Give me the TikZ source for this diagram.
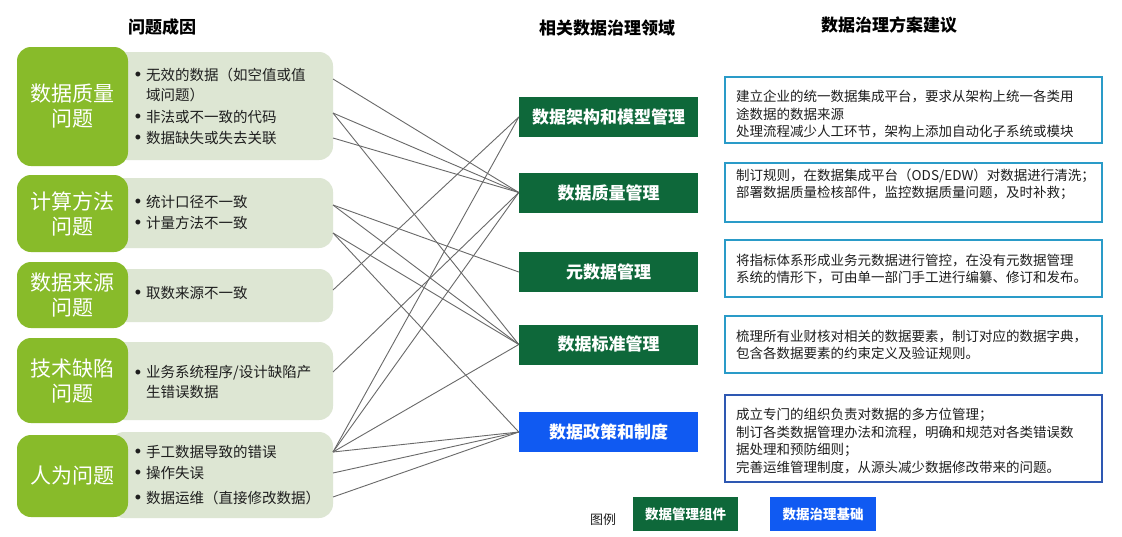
\documentclass[tikz,border=0pt]{standalone}
\usepackage{fontspec}
\setmainfont{Noto Sans CJK SC}
\newfontfamily\bulletfont{Liberation Sans}
\definecolor{leafgreen}{RGB}{136,187,42}
\definecolor{lightsage}{RGB}{221,230,211}
\definecolor{darkgreen}{RGB}{14,104,58}
\definecolor{brightblue}{RGB}{16,90,242}
\definecolor{tealblue}{RGB}{42,155,200}
\definecolor{navyblue}{RGB}{46,88,178}
\definecolor{linegray}{RGB}{105,105,105}
\definecolor{textgray}{RGB}{30,30,30}
\newcommand{\fs}[2]{\fontsize{#1pt}{#2pt}\selectfont}
\begin{document}
\begin{tikzpicture}[x=1pt,y=-1pt,
  gbox/.style={fill=leafgreen, rounded corners=14pt, minimum width=111pt, text=white, align=center, font=\fs{21}{25}, inner sep=0},
  lbox/.style={fill=lightsage, rounded corners=14pt, minimum width=223pt, inner sep=0},
  item/.style={anchor=west, inner sep=0, font=\fs{14.5}{17}, text=textgray},
  bul/.style={anchor=base, inner sep=0, font=\bulletfont\fs{18}{18}, text=textgray},
  mbox/.style={fill=darkgreen, minimum width=179pt, minimum height=40pt, text=white, font=\bfseries\fs{17}{20}, inner sep=0},
  pbox/.style={mbox, fill=brightblue},
  rbox/.style={draw=tealblue, line width=2pt, minimum width=377pt, inner sep=0},
  rtext/.style={anchor=west, align=left, inner sep=0, font=\fs{13.5}{17.5}, text=textgray},
  link/.style={draw=linegray, line width=0.9pt},
  title/.style={font=\bfseries\fs{17}{20}, text=black, inner sep=0},
  legbox/.style={minimum width=105pt, minimum height=34pt, text=white, font=\bfseries\fs{13.5}{16}, inner sep=0}
]
\useasboundingbox[fill=white] (0,0) rectangle (1122,536);

% titles
\node[title] (t1) at (162,27) {问题成因};
\node[title] (t2) at (607,28) {相关数据治理领域};
\node[title] (t3) at (889,25) {数据治理方案建议};

% light boxes
\node[lbox, minimum height=108pt] (l1) at (221.5,106) {};
\node[lbox, minimum height=70pt] (l2) at (221.5,213) {};
\node[lbox, minimum height=53pt] (l3) at (221.5,295.5) {};
\node[lbox, minimum height=78pt] (l4) at (221.5,381) {};
\node[lbox, minimum height=86pt] (l5) at (221.5,475) {};

% green boxes
\node[gbox, minimum height=119pt] (g1) at (72.5,106.5) {数据质量\\问题};
\node[gbox, minimum height=77pt] (g2) at (72.5,213.5) {计算方法\\问题};
\node[gbox, minimum height=66pt] (g3) at (72.5,295) {数据来源\\问题};
\node[gbox, minimum height=85pt] (g4) at (72.5,380.5) {技术缺陷\\问题};
\node[gbox, minimum height=82pt] (g5) at (72.5,476) {人为问题};

% bullet items
\node[bul] (u11) at (138,80) {•};
\node[item] (i11) at (146,75) {无效的数据（如空值或值};
\node[item] (i11b) at (146,95) {域问题）};
\node[bul] (u12) at (138,122) {•};
\node[item] (i12) at (146,117) {非法或不一致的代码};
\node[bul] (u13) at (138,143) {•};
\node[item] (i13) at (146,138) {数据缺失或失去关联};
\node[bul] (u21) at (138,207) {•};
\node[item] (i21) at (146,202) {统计口径不一致};
\node[bul] (u22) at (138,228) {•};
\node[item] (i22) at (146,223) {计量方法不一致};
\node[bul] (u31) at (138,298) {•};
\node[item] (i31) at (146,293) {取数来源不一致};
\node[bul] (u41) at (138,378) {•};
\node[item] (i41) at (146,373) {业务系统程序/设计缺陷产};
\node[item] (i41b) at (146,392) {生错误数据};
\node[bul] (u51) at (138,457) {•};
\node[item] (i51) at (146,452) {手工数据导致的错误};
\node[bul] (u52) at (138,478) {•};
\node[item] (i52) at (146,473) {操作失误};
\node[bul] (u53) at (138,503) {•};
\node[item] (i53) at (146,498) {数据运维（直接修改数据）};

% middle boxes
\node[mbox] (m1) at (608.5,117) {数据架构和模型管理};
\node[mbox] (m2) at (608.5,192.5) {数据质量管理};
\node[mbox] (m3) at (608.5,272) {元数据管理};
\node[mbox] (m4) at (608.5,344.5) {数据标准管理};
\node[pbox] (m5) at (608.5,432) {数据政策和制度};

% connector start points
\coordinate (p11) at (333,79);
\coordinate (p12) at (333,113);
\coordinate (p13) at (333,138);
\coordinate (p21) at (333,205);
\coordinate (p22) at (333,233);
\coordinate (p31) at (333,290);
\coordinate (p41) at (333,372);
\coordinate (p51) at (333,452);
\coordinate (p52) at (333,473);
\coordinate (p53) at (333,497);

% connectors
\draw[link] (p11) -- (m2.west);
\draw[link] (p12) -- (m2.west);
\draw[link] (p12) -- (m4.west);
\draw[link] (p13) -- (m2.west);
\draw[link] (p21) -- (m3.west);
\draw[link] (p21) -- (m4.west);
\draw[link] (p22) -- (m4.west);
\draw[link] (p22) -- (m5.west);
\draw[link] (p31) -- (m1.west);
\draw[link] (p41) -- (m2.west);
\draw[link] (p51) -- (m1.west);
\draw[link] (p51) -- (m2.west);
\draw[link] (p51) -- (m4.west);
\draw[link] (p51) -- (m5.west);
\draw[link] (p52) -- (m5.west);
\draw[link] (p53) -- (m5.west);

% right boxes
\node[rbox, minimum height=66pt] (r1) at (913.5,110) {};
\node[rbox, minimum height=59pt] (r2) at (913.5,192.5) {};
\node[rbox, minimum height=57pt] (r3) at (913.5,268.5) {};
\node[rbox, minimum height=57pt] (r4) at (913.5,344.5) {};
\node[rbox, draw=navyblue, minimum height=87pt] (r5) at (913.5,438.5) {};

\node[rtext] (x1) at (736,114) {建立企业的统一数据集成平台，要求从架构上统一各类用\\途数据的数据来源\\处理流程减少人工环节，架构上添加自动化子系统或模块};
\node[rtext] (x2) at (736,184.5) {制订规则，在数据集成平台（ODS/EDW）对数据进行清洗；\\部署数据质量检核部件，监控数据质量问题，及时补救；};
\node[rtext] (x3) at (736,269) {将指标体系形成业务元数据进行管控，在没有元数据管理\\系统的情形下，可由单一部门手工进行编纂、修订和发布。};
\node[rtext] (x4) at (736,345) {梳理所有业财核对相关的数据要素，制订对应的数据字典，\\包含各数据要素的约束定义及验证规则。};
\node[rtext] (x5) at (736,441) {成立专门的组织负责对数据的多方位管理；\\制订各类数据管理办法和流程，明确和规范对各类错误数\\据处理和预防细则；\\完善运维管理制度，从源头减少数据修改带来的问题。};

% legend
\node[inner sep=0, font=\fs{13}{15}, text=textgray] (lg) at (603,520) {图例};
\node[legbox, fill=darkgreen] (lg1) at (685.5,514) {数据管理组件};
\node[legbox, fill=brightblue, minimum width=106pt] (lg2) at (823,514) {数据治理基础};
\end{tikzpicture}
\end{document}
